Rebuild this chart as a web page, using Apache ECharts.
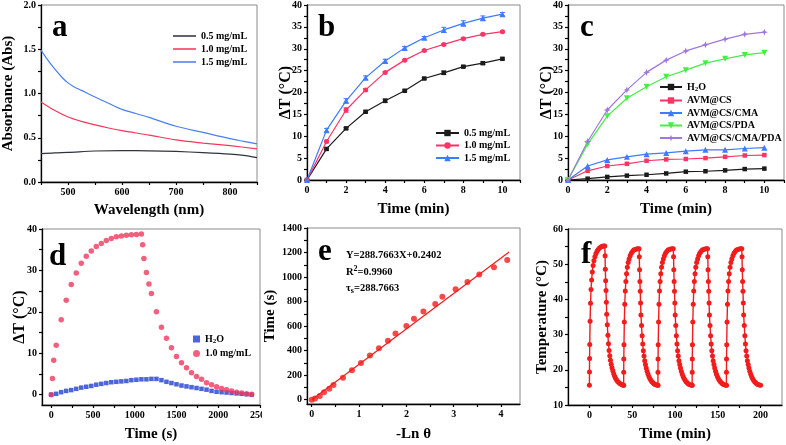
<!DOCTYPE html>
<html><head><meta charset="utf-8">
<script src="https://cdn.jsdelivr.net/npm/echarts@6/dist/echarts.min.js"></script>
<style>
html,body{margin:0;padding:0;background:#fff;width:786px;height:445px;overflow:hidden}
.p{position:absolute;overflow:hidden}
</style></head><body>
<div id="pa" class="p" style="left:0;top:0;width:262px;height:222px"></div>
<div id="pb" class="p" style="left:262px;top:0;width:262px;height:222px"></div>
<div id="pc" class="p" style="left:524px;top:0;width:262px;height:222px"></div>
<div id="pd" class="p" style="left:0;top:222px;width:262px;height:223px"></div>
<div id="pe" class="p" style="left:262px;top:222px;width:262px;height:223px"></div>
<div id="pf" class="p" style="left:524px;top:222px;width:262px;height:223px"></div>
<script>
// ---------- Panel a: absorbance ----------
const aWave05 = [450,475,500,550,600,650,700,750,800,825,850];
const aAbs05  = [0.32,0.33,0.335,0.35,0.355,0.352,0.345,0.332,0.315,0.30,0.275];
const aWave10 = [450,475,500,525,550,575,600,650,700,750,800,850];
const aAbs10  = [0.905,0.81,0.735,0.685,0.645,0.61,0.58,0.53,0.475,0.44,0.41,0.375];
const aWave15 = [450,460,475,490,500,510,525,550,575,600,650,700,750,800,825,850];
const aAbs15  = [1.49,1.40,1.28,1.175,1.12,1.08,1.035,0.96,0.89,0.82,0.73,0.63,0.56,0.49,0.46,0.43];
const aNames  = ['0.5 mg/mL','1.0 mg/mL','1.5 mg/mL'];

// ---------- Panel b: heating vs concentration ----------
const bTime = [0,1,2,3,4,5,6,7,8,9,10];
const bDT05 = [0,7.1,11.8,15.6,18.1,20.4,23.2,24.5,25.9,26.7,27.7];
const bDT10 = [0,8.8,16.0,20.6,24.6,27.4,29.6,31.0,32.3,33.3,33.9];
const bDT15 = [0,11.4,18.1,23.4,27.2,30.2,32.5,34.3,35.8,37.0,37.9];
const bErr05 = [0,0.2,0.2,0.2,0.4,0.2,0.2,0.4,0.2,0.3,0.2];
const bErr10 = [0,0.3,0.5,0.3,0.2,0.2,0.2,0.2,0.2,0.2,0.2];
const bErr15 = [0,0.4,0.5,0.4,0.4,0.3,0.3,0.6,0.6,0.5,0.4];

// ---------- Panel c: heating of samples ----------
const cTime = [0,1,2,3,4,5,6,7,8,9,10];
const cNames = ['H2O','AVM@CS','AVM@CS/CMA','AVM@CS/PDA','AVM@CS/CMA/PDA'];
const cH2O   = [0,0.3,0.7,1.0,1.2,1.5,1.9,2.0,2.2,2.5,2.6];
const cCS    = [0,2.1,3.2,3.7,4.4,4.7,4.8,5.0,5.3,5.6,5.7];
const cCMA   = [0,3.2,4.6,5.3,5.9,6.2,6.6,6.9,6.9,7.2,7.4];
const cPDA   = [0,8.2,14.6,18.7,21.3,23.6,25.1,26.7,27.7,28.6,29.1];
const cCMAPDA= [0,8.8,16.0,20.6,24.6,27.4,29.5,30.9,32.2,33.3,33.8];

// ---------- Panel d: heating / cooling ----------
const dRedTime = [0,15,30,60,120,180,240,300,360,420,480,540,600,660,720,780,840,900,960,1020,1080,
  1095,1110,1140,1170,1200,1260,1320,1380,1440,1500,1560,1620,1680,1740,1800,1860,1920,1980,2040,2100,2160,2220,2280,2340,2400];
const dRedDT = [0,3.9,8.3,11.9,18.1,22.8,26.6,29.4,31.7,33.4,34.7,35.8,36.5,37.2,37.7,38.1,38.3,38.5,38.6,38.7,38.8,
  36.2,32.9,29.5,26.7,24.4,20.0,16.3,13.6,11.3,9.2,7.7,6.5,5.3,4.4,3.7,2.9,2.4,1.9,1.5,1.2,0.9,0.6,0.4,0.2,0.1];
const dBlueTime = [0,60,120,180,240,300,360,420,480,540,600,660,720,780,840,900,960,1020,1080,1140,1200,
  1260,1320,1380,1440,1500,1560,1620,1680,1740,1800,1860,1920,1980,2040,2100,2160,2220,2280,2340,2400];
const dBlueDT = [0,0.2,0.6,0.9,1.1,1.4,1.7,1.9,2.1,2.4,2.6,2.8,3.0,3.1,3.2,3.3,3.5,3.6,3.7,3.7,3.8,
  3.8,3.5,3.1,2.8,2.5,2.2,2.0,1.8,1.6,1.4,1.2,0.9,0.7,0.6,0.5,0.4,0.3,0.2,0.1,0];
const dNames = ['H2O','1.0 mg/mL'];

// ---------- Panel e: -ln(theta) vs time ----------
const eLnTheta = [0,0.07,0.17,0.26,0.37,0.46,0.66,0.85,1.04,1.23,1.42,1.61,1.77,2.0,2.16,2.36,2.61,2.76,3.04,3.29,3.54,3.85,4.13];
const eTime    = [0,10,30,60,90,120,180,240,300,360,420,480,540,600,660,720,780,840,900,960,1020,1080,1140];
const eFitX = [0,4.17];
const eFitY = [0.24,1204];

// ---------- Panel f: cycling ----------
const fCycleStart = [0,40,80,120,160];
const fCycleMin = [0,0.1,0.2,0.4,0.8,1.3,1.9,2.6,3.4,4.3,5.3,6.4,7.6,8.9,10.3,11.8,13.4,15,16.6,18,
  18.3,18.6,19,19.4,19.8,20.2,20.9,21.6,22.3,23,23.8,24.6,25.5,26.4,27.4,28.4,29.5,30.6,31.8,33,34.3,35.6,37,38.5,40];
const fTemp1 = [15.6,19.4,23.2,27.2,33.8,38.9,42.8,45.5,47.8,49.6,51.0,52.1,53.0,53.7,54.2,54.6,54.9,55.1,55.2,55.2,
  52.4,48.6,45.3,42.5,39.2,35.8,32.8,29.8,27.4,25.5,24.0,22.7,21.6,20.6,19.7,18.9,18.2,17.6,17.1,16.7,16.4,16.1,15.9,15.7,15.6];
const fTemp2 = [15.6,19.3,23.1,27.1,33.6,38.6,42.4,45.1,47.3,49.1,50.5,51.5,52.4,53.1,53.6,54.0,54.2,54.3,54.4,54.4,
  52.1,48.4,45.1,42.3,39.0,35.6,32.6,29.7,27.3,25.4,23.9,22.6,21.5,20.5,19.6,18.8,18.1,17.5,17.0,16.6,16.3,16.0,15.8,15.7,15.6];
const fTemp3 = [15.6,19.3,23.1,27.1,33.6,38.6,42.4,45.1,47.3,49.1,50.5,51.5,52.4,53.1,53.6,54.0,54.2,54.3,54.4,54.4,
  52.1,48.4,45.1,42.3,39.0,35.6,32.6,29.7,27.3,25.4,23.9,22.6,21.5,20.5,19.6,18.8,18.1,17.5,17.0,16.6,16.3,16.0,15.8,15.7,15.6];
const fTemp4 = [15.6,19.3,23.1,27.1,33.6,38.6,42.4,45.1,47.3,49.1,50.5,51.5,52.4,53.1,53.6,54.0,54.2,54.3,54.4,54.4,
  52.1,48.4,45.1,42.3,39.0,35.6,32.6,29.7,27.3,25.4,23.9,22.6,21.5,20.5,19.6,18.8,18.1,17.5,17.0,16.6,16.3,16.0,15.8,15.7,15.6];
const fTemp5 = [15.6,19.3,23.1,27.1,33.6,38.6,42.4,45.1,47.3,49.1,50.5,51.5,52.4,53.1,53.6,54.0,54.2,54.3,54.4,54.4,
  52.1,48.4,45.1,42.3,39.0,35.6,32.6,29.7,27.3,25.4,23.9,22.6,21.5,20.5,19.6,18.8,18.1,17.5,17.0,16.6,16.3,16.0,15.8,15.7,15.6];

// ================= helpers =================
const FONT = '"Liberation Serif","Times New Roman",serif';
const zip = (x, y) => x.map((v, i) => [v, y[i]]);
const subRich = {
  n:{fontFamily:FONT,fontWeight:'bold',fontSize:10,color:'#000',lineHeight:12},
  sub:{fontFamily:FONT,fontWeight:'bold',fontSize:7,color:'#000',lineHeight:12,verticalAlign:'bottom'}
};
const legendFmt = n => n === 'H2O' ? '{n|H}{sub|2}{n|O}' : '{n|' + n + '}';
const plain = v => String(v);

function axis(o){
  const a = {
    type:'value', min:o.min, max:o.max,
    name:o.name, nameLocation:'middle', nameGap:o.nameGap, nameMoveOverlap:false,
    nameTextStyle:{fontFamily:FONT,fontWeight:'bold',fontSize:o.nameSize||15,color:'#000'},
    axisLine:{show:true,onZero:false,lineStyle:{color:'#000',width:1.3}},
    axisTick:{show:true,inside:false,length:3,lineStyle:{color:'#000',width:1.2}},
    axisLabel:{fontFamily:FONT,fontWeight:'bold',fontSize:10,color:'#000',margin:o.margin||5,
               showMinLabel:true,showMaxLabel:o.hideMax?false:true,formatter:o.formatter||plain},
    splitLine:{show:false}
  };
  if (o.interval != null) a.interval = o.interval;
  if (o.labelValues){ a.axisLabel.customValues = o.labelValues; a.axisTick.customValues = o.tickValues; }
  if (o.labelInterval != null){ a.axisLabel.interval = o.labelInterval; a.axisTick.interval = o.labelInterval; }
  if (o.minor) a.minorTick = {show:true,splitNumber:2,length:3,lineStyle:{color:'#000',width:1.2}};
  return a;
}
function grid(l,r,t,b){ return {left:l,right:r,top:t,bottom:b,show:true,borderColor:'#8a8a8a',borderWidth:1,
  containLabel:false,outerBoundsMode:'none'}; }
function letter(t,x,y){ return {type:'text',x:x,y:y,z:100,style:{text:t,font:'bold 31px "Liberation Serif"',fill:'#000',align:'left',verticalAlign:'middle'}}; }
function lineSeries(name, data, color, symbol, size, extra){
  return Object.assign({type:'line',name:name,data:data,symbol:symbol,symbolSize:size,showSymbol:symbol!=='none',
    lineStyle:{color:color,width:1.2},itemStyle:{color:color},smooth:false,animation:false,z:4}, extra||{});
}
function errSeries(x, y, e, color){
  return {type:'custom',name:'err',data:x.map((v,i)=>[v,y[i],e[i]]),z:3,silent:true,animation:false,
    renderItem:(params, api)=>{
      const p1 = api.coord([api.value(0), api.value(1)+api.value(2)]);
      const p2 = api.coord([api.value(0), api.value(1)-api.value(2)]);
      const w = 2.5, s = {stroke:color,lineWidth:1};
      return {type:'group',children:[
        {type:'line',shape:{x1:p1[0],y1:p1[1],x2:p2[0],y2:p2[1]},style:s},
        {type:'line',shape:{x1:p1[0]-w,y1:p1[1],x2:p1[0]+w,y2:p1[1]},style:s},
        {type:'line',shape:{x1:p2[0]-w,y1:p2[1],x2:p2[0]+w,y2:p2[1]},style:s}]};
    }};
}
function legend(names, left, top, iw, ih, gap){
  return {data:names,orient:'vertical',left:left,top:top,padding:0,itemWidth:iw,itemHeight:ih,itemGap:gap,
    formatter:legendFmt,textStyle:{rich:subRich},selectedMode:false};
}
function make(id, opt){
  const c = echarts.init(document.getElementById(id), null, {renderer:'canvas'});
  opt.animation = false;
  c.setOption(opt);
}

// ================= Panel a =================
const colA = ['#2f3340','#f5365c','#4a7ff0'];
const lineIcon = 'path://M0,0H24V1.6H0Z';
make('pa', {
  grid: grid(41,5,5,40),
  xAxis: axis({min:450,max:850,interval:50,labelInterval:0,name:'Wavelength (nm)',nameGap:21,
               formatter:v=>(v%100===0?String(v):'')}),
  yAxis: axis({min:0,max:2,interval:0.5,minor:true,name:'Absorbance (Abs)',nameGap:25,formatter:v=>v.toFixed(1)}),
  legend: legend(aNames.map(n=>({name:n,icon:lineIcon})),173,31,23,10,3),
  series:[
    lineSeries(aNames[0], zip(aWave05,aAbs05), colA[0], 'none', 0, {smooth:0.3}),
    lineSeries(aNames[1], zip(aWave10,aAbs10), colA[1], 'none', 0, {smooth:0.3}),
    lineSeries(aNames[2], zip(aWave15,aAbs15), colA[2], 'none', 0, {smooth:0.3})
  ],
  graphic:[letter('a',52,28)]
});

// ================= Panel b =================
const colB = ['#1b1b1b','#ff3366','#3d7bff'];
make('pb', {
  grid: grid(45,4,5,42),
  xAxis: axis({min:0,max:10.9,interval:2,minor:true,hideMax:true,name:'Time (min)',nameGap:22}),
  yAxis: axis({min:0,max:40,interval:5,minor:true,name:'\u0394T (\u00B0C)',nameGap:13,nameSize:16}),
  legend: legend(aNames,173,128,23,8,2.5),
  series:[
    errSeries(bTime,bDT05,bErr05,colB[0]),
    errSeries(bTime,bDT10,bErr10,colB[1]),
    errSeries(bTime,bDT15,bErr15,colB[2]),
    lineSeries(aNames[0], zip(bTime,bDT05), colB[0], 'rect', 4.5),
    lineSeries(aNames[1], zip(bTime,bDT10), colB[1], 'circle', 5),
    lineSeries(aNames[2], zip(bTime,bDT15), colB[2], 'triangle', 6)
  ],
  graphic:[letter('b',56,28)]
});

// ================= Panel c =================
const colC = ['#1a1a1a','#ff3366','#3d7bff','#44ee44','#a077e0'];
const star = 'path://M0,-10L2.8,-2.8L10,0L2.8,2.8L0,10L-2.8,2.8L-10,0L-2.8,-2.8Z';
make('pc', {
  grid: grid(44,2,5,42),
  xAxis: axis({min:0,max:11,interval:2,minor:true,hideMax:true,name:'Time (min)',nameGap:22}),
  yAxis: axis({min:0,max:40,interval:5,minor:true,name:'\u0394T (\u00B0C)',nameGap:13,nameSize:16}),
  legend: legend(cNames,135,82,22,8,2.5),
  series:[
    lineSeries(cNames[0], zip(cTime,cH2O), colC[0], 'rect', 4.5),
    lineSeries(cNames[1], zip(cTime,cCS), colC[1], 'rect', 4.5),
    lineSeries(cNames[2], zip(cTime,cCMA), colC[2], 'triangle', 6),
    lineSeries(cNames[3], zip(cTime,cPDA), colC[3], 'triangle', 6, {symbolRotate:180}),
    lineSeries(cNames[4], zip(cTime,cCMAPDA), colC[4], star, 7)
  ],
  graphic:[letter('c',56,28)]
});

// ================= Panel d =================
make('pd', {
  grid: grid(42,2,7,40),
  xAxis: axis({min:-110,max:2500,interval:10,labelValues:[0,500,1000,1500,2000,2500],
               tickValues:[0,250,500,750,1000,1250,1500,1750,2000,2250,2500],name:'Time (s)',nameGap:22}),
  yAxis: axis({min:-2.5,max:40,interval:2.5,labelValues:[0,10,20,30,40],tickValues:[0,5,10,15,20,25,30,35,40],
               name:'\u0394T (\u00B0C)',nameGap:14,nameSize:16}),
  legend: legend(dNames,193,112,7,7,3.5),
  series:[
    {type:'scatter',name:dNames[0],data:zip(dBlueTime,dBlueDT),symbol:'rect',symbolSize:4.5,itemStyle:{color:'#1f3fd0'},z:3},
    {type:'scatter',name:dNames[1],data:zip(dRedTime,dRedDT),symbol:'circle',symbolSize:5.5,itemStyle:{color:'#f0385e'},z:4}
  ],
  graphic:[letter('d',49,35)]
});

// ================= Panel e =================
const eRich = {
  n:{fontFamily:FONT,fontWeight:'bold',fontSize:10.5,color:'#000',lineHeight:14},
  sup:{fontFamily:FONT,fontWeight:'bold',fontSize:8,color:'#000',lineHeight:14,verticalAlign:'top'},
  sub:{fontFamily:FONT,fontWeight:'bold',fontSize:8,color:'#000',lineHeight:14,verticalAlign:'bottom'}
};
function eText(t,x,y){ return {type:'text',x:x,y:y,z:100,style:{text:t,rich:eRich,align:'left',verticalAlign:'middle'}}; }
make('pe', {
  grid: grid(45,4,6,41),
  xAxis: axis({min:-0.1,max:4.4,interval:0.1,labelValues:[0,1,2,3,4],tickValues:[0,0.5,1,1.5,2,2.5,3,3.5,4],
               name:'-Ln \u03B8',nameGap:23}),
  yAxis: axis({min:-35,max:1400,interval:5,labelValues:[0,200,400,600,800,1000,1200,1400],
               tickValues:[0,100,200,300,400,500,600,700,800,900,1000,1100,1200,1300,1400],
               name:'Time (s)',nameGap:29}),
  series:[
    {type:'line',name:'fit',data:zip(eFitX,eFitY),symbol:'none',lineStyle:{color:'#f21c1c',width:1.2},z:3},
    {type:'scatter',name:'data',data:zip(eLnTheta,eTime),symbol:'circle',symbolSize:6,itemStyle:{color:'#f21c1c'},z:4}
  ],
  graphic:[letter('e',56,30),
    eText('{n|Y=288.7663X+0.2402}',84,33),
    eText('{n|R}{sup|2}{n|=0.9960}',84,50),
    eText('{n|\u03C4}{sub|s}{n|=288.7663}',84,66)]
});

// ================= Panel f =================
const fSeries = [fTemp1,fTemp2,fTemp3,fTemp4,fTemp5].map((temps,k)=>
  lineSeries('cycle'+(k+1), fCycleMin.map((m,i)=>[fCycleStart[k]+m, temps[i]]), '#f21c1c', 'circle', 5, {lineStyle:{color:'#f21c1c',width:1.4}}));
make('pf', {
  grid: grid(44,4,7,40),
  xAxis: axis({min:-25,max:225,interval:25,labelValues:[0,50,100,150,200],tickValues:[0,25,50,75,100,125,150,175,200],
               name:'Time (min)',nameGap:22}),
  yAxis: axis({min:10,max:60,interval:10,minor:true,name:'Temperature (\u00B0C)',nameGap:18}),
  series:fSeries,
  graphic:[letter('f',57,33)]
});
</script>
</body></html>
